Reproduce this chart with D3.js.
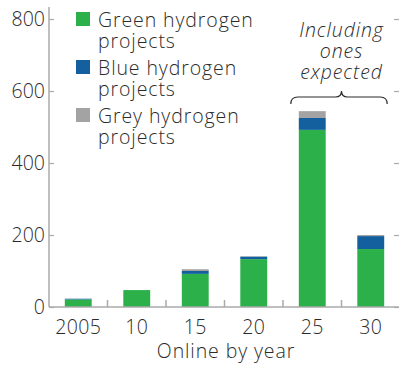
<!DOCTYPE html>
<html>
<head>
<meta charset="utf-8">
<script src="https://cdn.jsdelivr.net/npm/d3@7"></script>
<style>
  html, body { margin: 0; padding: 0; background: #fff; }
  svg { display: block; font-family: "Open Sans", Lato, sans-serif; font-weight: 350; }
</style>
</head>
<body>
<svg id="chart" width="399" height="367"></svg>
<script>
// Hydrogen projects coming online, by year
const years = ["2005", "10", "15", "20", "25", "30"];
const green = [21, 47, 92, 133, 492, 161];
const blue = [2, 0, 8, 7, 33, 36];
const grey = [0, 0, 5, 1, 19, 3];
const yTicks = [0, 200, 400, 600, 800];
const seriesNames = ["Green hydrogen projects", "Blue hydrogen projects", "Grey hydrogen projects"];
const seriesColors = ["#2cb14a", "#14609f", "#a3a3a3"];

const svg = d3.select("#chart");
const plotLeft = 49, plotRight = 400, plotTop = 19, plotBottom = 307;
const textColor = "#2b2b2b";
const axisColor = "#aaa";
const fontSize = 19.5;
const wordSpacing = 0.9;

const x = d3.scaleBand().domain(years).range([plotLeft, plotRight]).paddingInner(0.54).paddingOuter(0.27);
const y = d3.scaleLinear().domain([0, 800]).range([plotBottom, plotTop]);

const rows = years.map((yr, i) => ({ year: yr, green: green[i], blue: blue[i], grey: grey[i] }));
const stack = d3.stack().keys(["green", "blue", "grey"])(rows);

// stacked bars
svg.append("g").selectAll("g").data(stack).join("g")
  .attr("fill", (d, i) => seriesColors[i])
  .selectAll("rect").data(d => d).join("rect")
  .attr("x", d => x(d.data.year))
  .attr("width", x.bandwidth())
  .attr("y", d => y(d[1]))
  .attr("height", d => y(d[0]) - y(d[1]));

// left value axis
const yAxis = svg.append("g").attr("transform", `translate(${plotLeft},0)`)
  .call(d3.axisRight(y).tickValues(yTicks).tickSize(5).tickFormat(""));
yAxis.select(".domain").attr("stroke", axisColor).attr("stroke-width", 1.5)
  .attr("d", `M0,${plotTop - 12}V${plotBottom}`);
yAxis.selectAll(".tick line").attr("stroke", axisColor).attr("stroke-width", 1.2);

svg.append("g").selectAll("text").data(yTicks).join("text")
  .attr("x", plotLeft - 4).attr("y", d => y(d) + 7)
  .attr("text-anchor", "end").attr("fill", textColor).attr("font-size", fontSize)
  .text(d => d);

// right-side ticks
const yAxisR = svg.append("g").attr("transform", `translate(${plotRight - 1},0)`)
  .call(d3.axisLeft(y).tickValues(yTicks).tickSize(5).tickFormat(""));
yAxisR.select(".domain").remove();
yAxisR.selectAll(".tick line").attr("stroke", axisColor).attr("stroke-width", 1.2);

// baseline and category separators
svg.append("line").attr("x1", plotLeft).attr("x2", plotRight).attr("y1", plotBottom).attr("y2", plotBottom)
  .attr("stroke", axisColor).attr("stroke-width", 1.5);
svg.append("g").selectAll("line").data(years.slice(1)).join("line")
  .attr("x1", d => x(d) - x.step() * x.paddingInner() / 2)
  .attr("x2", d => x(d) - x.step() * x.paddingInner() / 2)
  .attr("y1", plotBottom).attr("y2", plotBottom - 7)
  .attr("stroke", axisColor).attr("stroke-width", 1.5);

// category labels
svg.append("g").selectAll("text").data(years).join("text")
  .attr("x", d => x(d) + x.bandwidth() / 2).attr("y", 333.5)
  .attr("text-anchor", "middle").attr("fill", textColor).attr("font-size", fontSize)
  .attr("letter-spacing", 0.4)
  .text(d => d);

svg.append("text").attr("x", 226).attr("y", 358).attr("text-anchor", "middle")
  .attr("fill", textColor).attr("font-size", fontSize).attr("letter-spacing", wordSpacing)
  .text("Online by year");

// legend
const legend = svg.append("g").selectAll("g").data(seriesNames).join("g")
  .attr("transform", (d, i) => `translate(76,${12 + i * 48})`);
legend.append("rect").attr("width", 14).attr("height", 14).attr("fill", (d, i) => seriesColors[i]);
legend.append("text").attr("x", 22).attr("y", 14.5).attr("fill", textColor).attr("font-size", fontSize)
  .attr("letter-spacing", wordSpacing)
  .text(d => d.replace(" projects", ""));
legend.append("text").attr("x", 22).attr("y", 36).attr("fill", textColor).attr("font-size", fontSize)
  .attr("letter-spacing", wordSpacing)
  .text("projects");

// note over the last two years
const noteX = (x("25") + x("30") + x.bandwidth()) / 2;
svg.append("g").selectAll("text").data(["Including", "ones", "expected"]).join("text")
  .attr("x", noteX).attr("y", (d, i) => 37 + i * 21)
  .attr("text-anchor", "middle").attr("fill", textColor).attr("font-size", fontSize)
  .attr("letter-spacing", wordSpacing)
  .attr("font-style", "italic").text(d => d);

// curly brace spanning the last two bars
const bx0 = x("25") - 8, bx1 = x("30") + x.bandwidth() + 3, by = 97;
svg.append("path")
  .attr("d", `M${bx0},${by + 7} Q${bx0},${by} ${bx0 + 7},${by} L${noteX - 6},${by} Q${noteX},${by} ${noteX},${by - 6} Q${noteX},${by} ${noteX + 6},${by} L${bx1 - 7},${by} Q${bx1},${by} ${bx1},${by + 7}`)
  .attr("fill", "none").attr("stroke", textColor).attr("stroke-width", 1.2);
</script>
</body>
</html>
